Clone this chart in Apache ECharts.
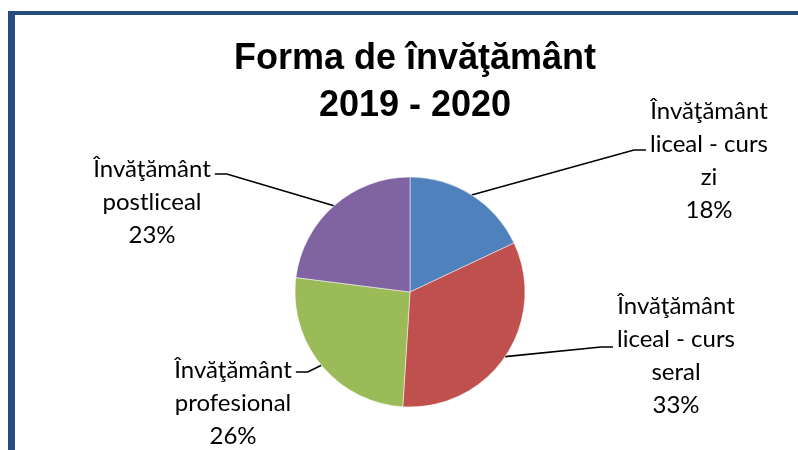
<!DOCTYPE html>
<html>
<head>
<meta charset="utf-8">
<script src="https://cdn.jsdelivr.net/npm/echarts@6/dist/echarts.min.js"></script>
<style>
  body { margin: 0; background: #fff; }
</style>
</head>
<body>
<div id="main" style="width: 798px;height:450px;"></div>
<script type="text/javascript">
    // date grafic
    var categories = [
        'Învăţământ\nliceal - curs\nzi',
        'Învăţământ\nliceal - curs\nseral',
        'Învăţământ\nprofesional',
        'Învăţământ\npostliceal'
    ];
    var values = [18, 33, 26, 23];
    var colors = ['#4f81bd', '#c0504d', '#9bbb59', '#8064a2'];

    // pozitia etichetelor (centru) + linia de legatura
    var labelPos = [
        { x: 709, y: 161, hookY: 150, side: 'right' },
        { x: 676, y: 356, hookY: 347, side: 'right' },
        { x: 233, y: 403, hookY: 372, side: 'left' },
        { x: 152, y: 202, hookY: 174, side: 'left' }
    ];

    var myChart = echarts.init(document.getElementById('main'));

    var pieData = [];
    for (var i = 0; i < categories.length; i++) {
        pieData.push({ name: categories[i], value: values[i], itemStyle: { color: colors[i] } });
    }

    var option = {
        backgroundColor: '#fff',
        animation: false,
        title: {
            text: 'Forma de învăţământ\n2019 - 2020',
            left: 410,
            top: 31,
            textAlign: 'center',
            textStyle: {
                fontFamily: 'Liberation Sans',
                fontWeight: 'bold',
                fontSize: 36,
                lineHeight: 47,
                color: '#000'
            }
        },
        graphic: [
            { type: 'rect', shape: { x: 8, y: 11, width: 7, height: 440 }, style: { fill: '#264b7f' } },
            { type: 'rect', shape: { x: 8, y: 11, width: 790, height: 4 }, style: { fill: '#264b7f' } }
        ],
        series: [{
            type: 'pie',
            center: [410, 292],
            radius: 115,
            startAngle: 90,
            clockwise: true,
            data: pieData,
            itemStyle: { borderColor: '#fff', borderWidth: 0.5 },
            label: {
                show: true,
                formatter: function (p) { return p.name + '\n' + Math.round(p.percent) + '%'; },
                fontFamily: 'Lato',
                fontSize: 24,
                lineHeight: 33,
                color: '#000',
                align: 'center'
            },
            labelLine: {
                show: true,
                lineStyle: { color: '#000', width: 1.6 }
            },
            emphasis: { disabled: true },
            labelLayout: function (params) {
                var lp = labelPos[params.dataIndex];
                var w = params.labelRect.width;
                var p0 = params.labelLinePoints ? params.labelLinePoints[0] : null;
                var res = { x: lp.x, y: lp.y, align: 'center', verticalAlign: 'middle' };
                if (p0) {
                    var endX, elbowX;
                    if (lp.side === 'right') {
                        endX = lp.x - w / 2 - 4;
                        elbowX = endX - 12;
                    } else {
                        endX = lp.x + w / 2 + 4;
                        elbowX = endX + 12;
                    }
                    res.labelLinePoints = [p0, [elbowX, lp.hookY], [endX, lp.hookY]];
                }
                return res;
            }
        }]
    };

    myChart.setOption(option);
</script>
</body>
</html>
